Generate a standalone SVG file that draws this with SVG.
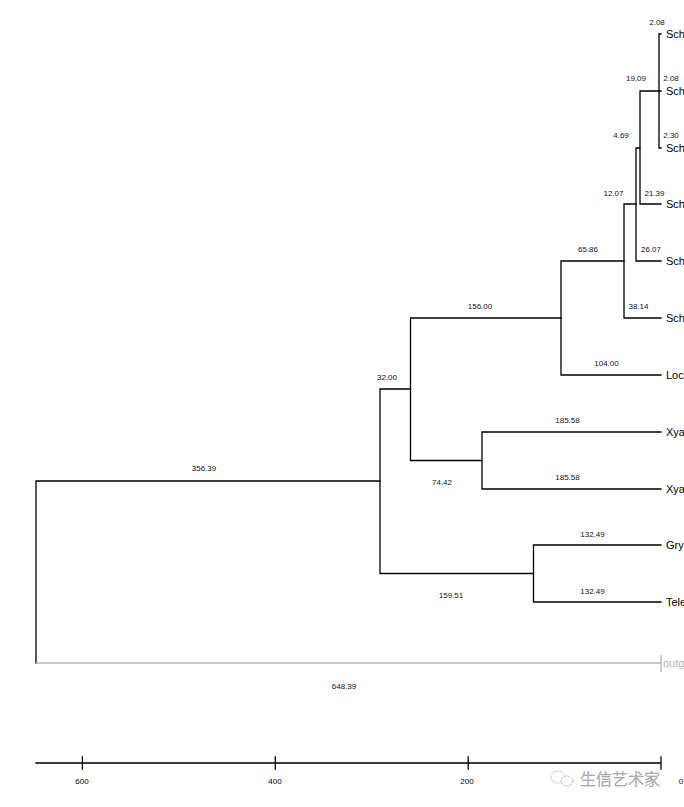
<svg xmlns="http://www.w3.org/2000/svg" width="684" height="807" viewBox="0 0 684 807">
<style>
.br{fill:none;stroke:#000;stroke-width:1.3;stroke-linecap:square}
.og{fill:none;stroke:#b4b4b4;stroke-width:1.3}
.bl{font-family:"Liberation Sans",Arial,sans-serif;font-size:8px;fill:#111122;text-anchor:middle}
.tip{font-family:"Liberation Sans",Arial,sans-serif;font-size:11px;fill:#000}
.ax{font-family:"Liberation Sans",Arial,sans-serif;font-size:8px;fill:#000;text-anchor:middle}
.wm{font-family:"Noto Sans CJK SC",sans-serif;font-size:16px;font-weight:300;fill:#fff;stroke:#9a9a9a;stroke-width:0.55}
</style>
<rect width="684" height="807" fill="#fff"/>
<g id="connectors">
<path class="br" d="M659,34V148M659,34H661M659,91H661M659,148H661"/>
<path class="br" d="M640,91H659M640,91V204M640,204H661"/>
<path class="br" d="M636,148H640M636,148V261M636,261H661"/>
<path class="br" d="M624,204H636M624,204V318M624,318H661"/>
<path class="br" d="M561,261H624M561,261V375M561,375H661"/>
<path class="br" d="M410.5,318H561M410.5,318V460.5M410.5,460.5H482"/>
<path class="br" d="M482,432V489M482,432H661M482,489H661"/>
<path class="br" d="M380,389H410.5M380,389V573.5M380,573.5H533.5"/>
<path class="br" d="M533.5,545V602M533.5,545H661M533.5,602H661"/>
<path class="br" d="M36,481H380M36,481V663"/>
<path class="og" d="M36,663H661M661,655V672"/>
</g>
<g id="branch-labels">
<text class="bl" x="657" y="25">2.08</text>
<text class="bl" x="671" y="81">2.08</text>
<text class="bl" x="636" y="81">19.09</text>
<text class="bl" x="671" y="138">2.30</text>
<text class="bl" x="621" y="138">4.69</text>
<text class="bl" x="613.5" y="196">12.07</text>
<text class="bl" x="654.5" y="196">21.39</text>
<text class="bl" x="651" y="252">26.07</text>
<text class="bl" x="588" y="252">65.86</text>
<text class="bl" x="480" y="309">156.00</text>
<text class="bl" x="638.5" y="309">38.14</text>
<text class="bl" x="387" y="380">32.00</text>
<text class="bl" x="606.5" y="366">104.00</text>
<text class="bl" x="567.5" y="423">185.58</text>
<text class="bl" x="442" y="485">74.42</text>
<text class="bl" x="567.5" y="480">185.58</text>
<text class="bl" x="204" y="471">356.39</text>
<text class="bl" x="592.5" y="537">132.49</text>
<text class="bl" x="451" y="598">159.51</text>
<text class="bl" x="592.5" y="594">132.49</text>
<text class="bl" x="344" y="689">648.39</text>
</g>
<g id="node-sch1"><text class="tip" x="666" y="38">Sch</text></g>
<g id="node-sch2"><text class="tip" x="666" y="95">Sch</text></g>
<g id="node-sch3"><text class="tip" x="666" y="152">Sch</text></g>
<g id="node-sch4"><text class="tip" x="666" y="208">Sch</text></g>
<g id="node-sch5"><text class="tip" x="666" y="265">Sch</text></g>
<g id="node-sch6"><text class="tip" x="666" y="322">Sch</text></g>
<g id="node-loc"><text class="tip" x="666" y="379">Loc</text></g>
<g id="node-xya1"><text class="tip" x="666" y="436">Xya</text></g>
<g id="node-xya2"><text class="tip" x="666" y="493">Xya</text></g>
<g id="node-gry"><text class="tip" x="666" y="549">Gry</text></g>
<g id="node-tele"><text class="tip" x="666" y="606">Tele</text></g>
<g id="node-outg"><text class="tip" x="663" y="667" style="fill:#b4b4b4">outg</text></g>
<g id="axis">
<path class="br" d="M36,763H661M82.4,757V769M275.3,757V769M468.2,757V769M661,757V769"/>
<text class="ax" x="82" y="784">600</text>
<text class="ax" x="275" y="784">400</text>
<text class="ax" x="467" y="784">200</text>
<text class="ax" x="681" y="784">0</text>
</g>
<g id="watermark">
<ellipse cx="558" cy="777" rx="7" ry="6" fill="#fff" stroke="#a0a0a0" stroke-width="0.8" stroke-dasharray="2 1.2"/>
<ellipse cx="567" cy="781" rx="6" ry="5" fill="#fff" stroke="#a0a0a0" stroke-width="0.8" stroke-dasharray="2 1.2"/>
<text class="wm" x="580" y="785">生信艺术家</text>
</g>
</svg>
